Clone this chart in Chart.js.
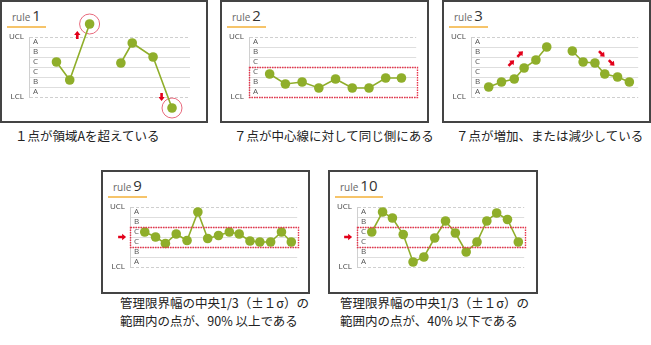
<!DOCTYPE html>
<html><head><meta charset="utf-8">
<script src="https://cdn.jsdelivr.net/npm/chart.js@4/dist/chart.umd.min.js"></script>
<style>
html,body{margin:0;padding:0;background:#fff;width:651px;height:345px;overflow:hidden;}
.box{position:absolute;box-sizing:border-box;border:2px solid #444;background:#fff;}
canvas{position:absolute;}
.ttl{position:absolute;border-bottom:2px solid #f6c46a;padding:0 5px 1px 5px;line-height:14px;white-space:nowrap;}
.ttl .r{font:10px "Open Sans",sans-serif;color:#666;}
.ttl .n{font:15px "Open Sans",sans-serif;color:#333;margin-left:2px;}
.cap{position:absolute;font:12.5px "Noto Sans CJK JP",sans-serif;color:#222;white-space:nowrap;}
</style></head><body>
<script>
// ---- data (values in sigma units from the centre line; x = sample position) ----
const zoneLabels = ['A','B','C','C','B','A'];
const limitTicks = [-3,-2,-1,0,1,2,3];
const zoneTicks = [-2.5,-1.5,-0.5,0.5,1.5,2.5];

const rule1X = [2.9,4.3,6.4,8.0,9.7,10.9,13.1,15.1];
const rule1Y = [0.5,-1.3,4.3,null,0.4,2.4,1.0,-4.1];
const rule1Flagged = [2,7];
const rule1Arrows = [{x:5.1,y:3.2,a:-90},{x:14.0,y:-3.0,a:90}];

const rule2X = [2.1,3.7,5.4,7.1,8.8,10.5,12.2,13.9,15.5];
const rule2Y = [-0.7,-1.7,-1.5,-2.1,-1.2,-2.1,-2.1,-1.1,-1.1];
const rule2Band = [-3,0];

const rule3X = [1.8,3.1,4.4,5.4,6.6,7.7,9.0,10.3,11.4,12.6,13.6,14.9,16.1];
const rule3Y = [-2.0,-1.5,-1.2,-0.1,0.7,2.0,null,1.6,0.5,0.4,-0.7,-1.0,-1.5];
const rule3Arrows = [{x:4.1,y:0.4,a:-45},{x:5.0,y:1.3,a:-45},{x:13.3,y:1.3,a:45},{x:14.3,y:0.4,a:45}];

const rule9X = [1.5,2.6,3.6,4.7,5.8,6.9,7.9,9.0,10.1,11.1,12.2,13.2,14.3,15.4,16.4];
const rule9Y = [0.5,0.0,-0.65,0.3,-0.35,2.5,-0.15,0.15,0.5,0.3,-0.4,-0.5,-0.5,0.5,-0.5];
const rule9Band = [-1,1];
const rule9Arrows = [{x:-0.8,y:0,a:0}];

const rule10X = [1.5,2.6,3.6,4.7,5.7,6.8,7.9,9.0,10.0,11.1,12.2,13.2,14.2,15.3,16.4];
const rule10Y = [0.5,2.5,1.9,0.25,-2.5,-2.0,-0.1,1.6,0.4,-1.5,-0.5,1.6,2.4,1.75,-0.5];
const rule10Band = [-1,1];
const rule10Arrows = [{x:-0.9,y:0,a:0}];

const titles = ['1','2','3','9','10'];
const captions = [
  ['１点が領域Aを超えている'],
  ['７点が中心線に対して同じ側にある'],
  ['７点が増加、または減少している'],
  ['管理限界幅の中央1/3（±１σ）の','範囲内の点が、90% 以上である'],
  ['管理限界幅の中央1/3（±１σ）の','範囲内の点が、40% 以下である']
];

// ---- layout ----
const panels = [
  {box:[0,0,208,123], axisX:29, ucl:37, xs:rule1X, ys:rule1Y, flagged:rule1Flagged, arrows:rule1Arrows, cap:[15,128]},
  {box:[220,0,209,123], axisX:249, ucl:37, xs:rule2X, ys:rule2Y, band:rule2Band, cap:[234,128]},
  {box:[442,0,209,123], axisX:471, ucl:37, xs:rule3X, ys:rule3Y, arrows:rule3Arrows, cap:[456,128]},
  {box:[101,170,209,124], axisX:130, ucl:207, xs:rule9X, ys:rule9Y, band:rule9Band, arrows:rule9Arrows, cap:[120,294]},
  {box:[328,170,210,124], axisX:357, ucl:207, xs:rule10X, ys:rule10Y, band:rule10Band, arrows:rule10Arrows, cap:[340,294]}
];

const GREEN = '#8fae2a';
const marksPlugin = {
  id:'marks',
  beforeDatasetsDraw(chart){
    // let points beyond the control limits (outside UCL/LCL) be drawn too
    const a = chart.chartArea;
    chart._savedArea = {top:a.top,bottom:a.bottom,left:a.left,right:a.right};
    a.top = 0; a.bottom = chart.height; a.left = 0; a.right = chart.width;
  },
  afterDatasetsDraw(chart, args, opts){
    Object.assign(chart.chartArea, chart._savedArea);
    const ctx = chart.ctx, xs = chart.scales.x, ys = chart.scales.y;
    if (opts.band){
      ctx.save();
      ctx.strokeStyle = '#e8344c'; ctx.lineWidth = 1.4; ctx.setLineDash([1.5,1]);
      const x0 = xs.getPixelForValue(xs.min), x1 = xs.getPixelForValue(xs.max)+1;
      const y0 = ys.getPixelForValue(opts.band[1]), y1 = ys.getPixelForValue(opts.band[0]);
      ctx.strokeRect(Math.round(x0)+0.5, Math.round(y0)+0.5, Math.round(x1-x0), Math.round(y1-y0));
      ctx.restore();
    }
    (opts.arrows||[]).forEach(a=>{
      const px = xs.getPixelForValue(a.x), py = ys.getPixelForValue(a.y);
      ctx.save();
      ctx.translate(px,py); ctx.rotate(a.a*Math.PI/180);
      ctx.fillStyle = '#e2001a';
      ctx.beginPath();
      ctx.moveTo(-4,-1.3); ctx.lineTo(0,-1.3); ctx.lineTo(0,-3.2); ctx.lineTo(4,0);
      ctx.lineTo(0,3.2); ctx.lineTo(0,1.3); ctx.lineTo(-4,1.3); ctx.closePath();
      ctx.fill();
      ctx.restore();
    });
  }
};

panels.forEach((p,i)=>{
  const [bx,by,bw,bh] = p.box;
  const box = document.createElement('div');
  box.className='box';
  Object.assign(box.style,{left:bx+'px',top:by+'px',width:bw+'px',height:bh+'px'});
  document.body.appendChild(box);

  const t = document.createElement('div');
  t.className='ttl';
  t.innerHTML = '<span class="r">rule</span><span class="n">'+titles[i]+'</span>';
  Object.assign(t.style,{left:(bx+7)+'px',top:(by+5)+'px'});
  document.body.appendChild(t);

  const c = document.createElement('div');
  c.className='cap';
  c.style.left = p.cap[0]+'px'; c.style.top = p.cap[1]+'px';
  c.style.lineHeight = (captions[i].length>1?18:16)+'px';
  c.innerHTML = captions[i].join('<br>');
  document.body.appendChild(c);

  const W = 200, H = 120;
  const cv = document.createElement('canvas');
  cv.width = W; cv.height = H;
  Object.assign(cv.style,{left:(p.axisX-28)+'px',top:(p.ucl-36)+'px',width:W+'px',height:H+'px'});
  document.body.appendChild(cv);

  const pts = p.xs.map((x,k)=>({x:x,y:p.ys[k]}));
  const datasets = [{
    data: pts, borderColor:GREEN, backgroundColor:GREEN, borderWidth:1.6,
    pointRadius:4.8, pointBorderWidth:0, pointBackgroundColor:GREEN,
    spanGaps:false, clip:false, tension:0
  }];
  if (p.flagged){
    datasets.push({
      data: p.flagged.map(k=>({x:p.xs[k],y:p.ys[k]})), showLine:false,
      pointRadius:10, pointBorderWidth:1, pointBorderColor:'#e8697c',
      pointBackgroundColor:'rgba(0,0,0,0)', clip:false
    });
  }
  new Chart(cv,{
    type:'line',
    data:{datasets},
    plugins:[marksPlugin],
    options:{
      responsive:false, animation:false, devicePixelRatio:1,
      layout:{padding:{top:36,bottom:H-36-60,left:0,right:W-28-170}},
      plugins:{legend:{display:false},tooltip:{enabled:false},
        marks:{band:p.band, arrows:p.arrows}},
      scales:{
        x:{type:'linear',min:0,max:17,display:false},
        y:{type:'linear',position:'left',min:-3,max:3,weight:1,
          afterBuildTicks:s=>{s.ticks = limitTicks.map(v=>({value:v}));},
          afterFit:s=>{s.width=28;},
          ticks:{autoSkip:false,padding:5,color:'#444',font:{family:'Open Sans',size:8},
            callback:v=> v===3?'UCL':(v===-3?'LCL':'')},
          grid:{drawTicks:false,lineWidth:1,
            color:ctx=> (ctx.tick && Math.abs(ctx.tick.value)===3)?'#cfcfcf':'#dedede'},
          border:{display:true,color:'#d0d0d0',width:1,
            dash:ctx=> (ctx.tick && Math.abs(ctx.tick.value)===3)?[3,2]:[]}
        },
        z:{type:'linear',position:'left',min:-3,max:3,weight:0,
          afterBuildTicks:s=>{s.ticks = zoneTicks.map(v=>({value:v}));},
          afterFit:s=>{s.width=0;},
          grid:{display:false}, border:{display:false},
          ticks:{autoSkip:false,mirror:true,padding:4,color:'#555',font:{family:'Open Sans',size:8},
            callback:(v,k)=> zoneLabels[zoneLabels.length-1-k]}
        }
      }
    }
  });
});
</script>
</body></html>
